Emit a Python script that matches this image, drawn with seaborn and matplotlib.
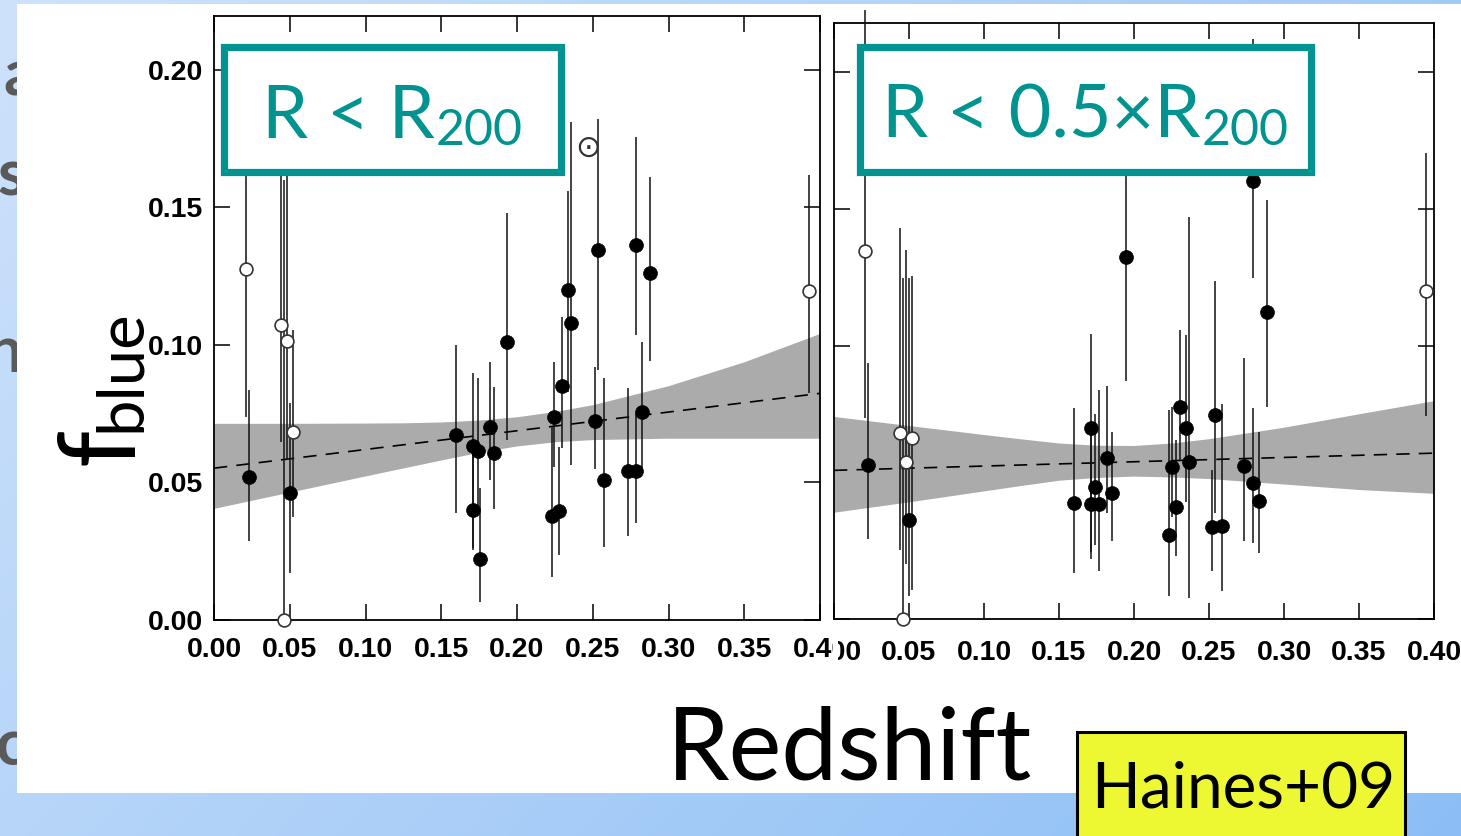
import numpy as np
import pandas as pd
import matplotlib
matplotlib.use("Agg")
import matplotlib.pyplot as plt
import seaborn as sns
from matplotlib.patches import Rectangle
from matplotlib.transforms import Bbox

# ---------------- data ----------------
x_ticks = [0.00, 0.05, 0.10, 0.15, 0.20, 0.25, 0.30, 0.35, 0.40]
x_tick_labels = ["0.00", "0.05", "0.10", "0.15", "0.20", "0.25", "0.30", "0.35", "0.40"]
y_ticks = [0.00, 0.05, 0.10, 0.15, 0.20]
y_tick_labels = ["0.00", "0.05", "0.10", "0.15", "0.20"]

# Left panel: R < R200
left_fill_z = [0.0233, 0.0499, 0.160, 0.1709, 0.1743, 0.1709, 0.1757, 0.182, 0.1849, 0.1935,
               0.223, 0.2278, 0.2247, 0.2298, 0.2337, 0.2355, 0.2518, 0.2535, 0.2576, 0.273,
               0.2788, 0.2788, 0.2827, 0.2876]
left_fill_f = [0.0521, 0.0463, 0.0673, 0.0634, 0.0616, 0.0400, 0.0223, 0.0700, 0.0606, 0.1012,
               0.0378, 0.0395, 0.0737, 0.0851, 0.1200, 0.1081, 0.0725, 0.1345, 0.0509, 0.0542,
               0.0542, 0.1364, 0.0758, 0.1261]
left_fill_lo = [0.0288, 0.0172, 0.0388, 0.0255, 0.0400, 0.0260, 0.0067, 0.0509, 0.0404, 0.0655,
                0.0158, 0.0236, 0.0558, 0.0624, 0.0830, 0.0564, 0.0550, 0.0910, 0.0267, 0.0305,
                0.0353, 0.1036, 0.0550, 0.0940]
left_fill_hi = [0.0836, 0.0789, 0.1000, 0.0898, 0.0880, 0.0620, 0.0481, 0.0939, 0.0846, 0.1480,
                0.0703, 0.0630, 0.0939, 0.1100, 0.1560, 0.1810, 0.0920, 0.1820, 0.0880, 0.0844,
                0.0750, 0.1757, 0.1012, 0.1610]
left_open_z = [0.0211, 0.0439, 0.0481, 0.0524, 0.0459, 0.3930]
left_open_f = [0.1276, 0.1073, 0.1015, 0.0685, 0.0000, 0.1196]
left_open_lo = [0.0739, 0.0648, 0.0580, 0.0376, 0.0000, 0.0825]
left_open_hi = [0.1750, 0.1700, 0.1680, 0.1055, 0.1600, 0.1618]
left_fit_z = [0.0, 0.4]
left_fit_f = [0.0552, 0.0824]
band_z = [0.00, 0.05, 0.10, 0.125, 0.15, 0.175, 0.20, 0.225, 0.25, 0.30, 0.35, 0.40]
left_band_hi = [0.0715, 0.0715, 0.0716, 0.0717, 0.0720, 0.0727, 0.0739, 0.0758, 0.0783, 0.0852, 0.0939, 0.1042]
left_band_lo = [0.0406, 0.0465, 0.0524, 0.0553, 0.0582, 0.0610, 0.0633, 0.0648, 0.0656, 0.0661, 0.0661, 0.0661]

# Right panel: R < 0.5 x R200
right_fill_z = [0.0228, 0.0498, 0.160, 0.1714, 0.1741, 0.1714, 0.1768, 0.1823, 0.185, 0.1945,
                0.2231, 0.2251, 0.2283, 0.2305, 0.2346, 0.2365, 0.2523, 0.2586, 0.2542, 0.2736,
                0.2796, 0.2834, 0.2885, 0.2796]
right_fill_f = [0.0564, 0.0364, 0.0427, 0.0699, 0.0485, 0.0422, 0.0422, 0.0592, 0.0461, 0.1324,
                0.0309, 0.0558, 0.0412, 0.0776, 0.0699, 0.0576, 0.0337, 0.0342, 0.0748, 0.0561,
                0.0499, 0.0433, 0.1124, 0.1604]
right_fill_lo = [0.0293, 0.0085, 0.0170, 0.0248, 0.0273, 0.0220, 0.0176, 0.0388, 0.0285, 0.0873,
                 0.0085, 0.0376, 0.0233, 0.0580, 0.0430, 0.0078, 0.0176, 0.0103, 0.0388, 0.0288,
                 0.0279, 0.0242, 0.0776, 0.1250]
right_fill_hi = [0.0939, 0.1250, 0.0773, 0.1042, 0.0752, 0.0680, 0.0839, 0.0852, 0.0685, 0.1750,
                 0.0764, 0.0776, 0.0655, 0.1057, 0.1039, 0.1470, 0.0545, 0.0788, 0.1236, 0.0955,
                 0.0773, 0.0685, 0.1533, 0.2124]
right_open_z = [0.0209, 0.0441, 0.0523, 0.0479, 0.0460, 0.3949]
right_open_f = [0.1348, 0.0682, 0.0664, 0.0576, 0.0000, 0.1200]
right_open_lo = [0.0735, 0.0255, 0.0106, 0.0201, 0.0000, 0.0745]
right_open_hi = [0.2229, 0.1430, 0.1255, 0.1350, 0.1250, 0.1705]
right_fit_z = [0.0, 0.4]
right_fit_f = [0.0545, 0.0608]
right_band_hi = [0.0742, 0.0709, 0.0676, 0.0660, 0.0645, 0.0637, 0.0636, 0.0645, 0.0661, 0.0703, 0.0752, 0.0800]
right_band_lo = [0.0392, 0.0430, 0.0470, 0.0490, 0.0509, 0.0519, 0.0524, 0.0521, 0.0515, 0.0495, 0.0475, 0.0461]

panel_titles = ["R < R", "R < 0.5×R"]
panel_subscript = "200"
x_label = "Redshift"
y_label_main = "f"
y_label_sub = "blue"
citation = "Haines+09"
sun_symbol = "⊙"
sun_pos = (0.2467, 0.1716)

# ---------------- style ----------------
sns.set_theme(style="ticks")
plt.rcParams['font.family'] = ['Liberation Sans', 'DejaVu Sans']
TEAL = "#00938f"
BAND = "#ababab"
SLIDE_FONT = ['Lato', 'DejaVu Sans']

W, H = 1461, 836
fig = plt.figure(figsize=(W / 100, H / 100), dpi=100)


def px_rect(x0, y0, x1, y1):
    return [x0 / W, 1 - y1 / H, (x1 - x0) / W, (y1 - y0) / H]


# background gradient + white slide panel
bg = fig.add_axes([0, 0, 1, 1], zorder=-10)
gx, gy = np.meshgrid(np.linspace(0, 1, 300), np.linspace(0, 1, 200))
t = np.clip(0.65 * gx + 0.35 * gy, 0, 1)[..., None]
c0 = np.array([206, 226, 251]) / 255
c1 = np.array([140, 190, 245]) / 255
bg.imshow(c0 * (1 - t) + c1 * t, extent=[0, W, H, 0], aspect='auto', interpolation='bilinear')
bg.set_xlim(0, W)
bg.set_ylim(H, 0)
bg.axis('off')
for ch, xx, yy in [("a", 3, 95), ("s", -3, 195), ("n", -14, 372), ("c", -4, 765)]:
    bg.text(xx, yy, ch, fontsize=46, color="#5a5a5a", family=SLIDE_FONT, fontweight='bold',
            ha='left', va='baseline', zorder=1)
bg.add_patch(Rectangle((16.7, 4), W - 16.7, 789, facecolor='white', edgecolor='none', zorder=2))

axL = fig.add_axes(px_rect(214, 16, 820, 620))
axR = fig.add_axes(px_rect(834, 23, 1434, 619.4))


def draw_panel(ax, fz, ff, flo, fhi, oz, of, olo, ohi, fitz, fitf, bhi, blo, ytop, clip):
    ax.set_facecolor('white')
    ax.fill_between(band_z, blo, bhi, color=BAND, lw=0, zorder=1)
    fit_df = pd.DataFrame({"z": fitz, "f": fitf})
    sns.lineplot(data=fit_df, x="z", y="f", ax=ax, color="black", lw=1.2,
                 dashes=False, zorder=3).lines[-1].set_dashes((8, 5.5))
    ax.vlines(fz, flo, fhi, colors="#111111", lw=1.1, zorder=4, clip_on=clip)
    ax.vlines(oz, olo, ohi, colors="#111111", lw=1.1, zorder=4, clip_on=clip)
    fdf = pd.DataFrame({"z": fz, "f": ff})
    odf = pd.DataFrame({"z": oz, "f": of})
    sns.scatterplot(data=fdf, x="z", y="f", ax=ax, color="black", s=100, edgecolor="black",
                    linewidth=0.5, zorder=5, clip_on=False)
    sns.scatterplot(data=odf, x="z", y="f", ax=ax, color="white", s=85, edgecolor="#333333",
                    linewidth=1.2, zorder=6, clip_on=False)
    ax.set_xlim(0, 0.4)
    ax.set_ylim(0, ytop)
    ax.set_xlabel("")
    ax.set_ylabel("")
    for sp in ax.spines.values():
        sp.set_visible(True)
        sp.set_color("black")
        sp.set_linewidth(1.3)
    ax.tick_params(direction='in', length=11.5, width=1.1, top=True, right=True,
                   colors='black', labelsize=20.5)


draw_panel(axL, left_fill_z, left_fill_f, left_fill_lo, left_fill_hi,
           left_open_z, left_open_f, left_open_lo, left_open_hi,
           left_fit_z, left_fit_f, left_band_hi, left_band_lo, 0.2196, True)
draw_panel(axR, right_fill_z, right_fill_f, right_fill_lo, right_fill_hi,
           right_open_z, right_open_f, right_open_lo, right_open_hi,
           right_fit_z, right_fit_f, right_band_hi, right_band_lo, 0.2181, False)

axL.set_xticks(x_ticks, x_tick_labels)
axL.set_yticks(y_ticks, y_tick_labels)
axR.set_xticks(x_ticks, x_tick_labels)
axR.set_yticks(y_ticks, [""] * len(y_ticks))
for lab in axL.get_xticklabels() + axL.get_yticklabels() + axR.get_xticklabels():
    lab.set_fontweight('bold')
axL.tick_params(axis='x', pad=12)
axL.tick_params(axis='y', pad=8)
axR.tick_params(axis='x', pad=15)

axL.text(sun_pos[0], sun_pos[1], sun_symbol, fontsize=22, color="#333333",
         family=['DejaVu Sans'], ha='center', va='center', zorder=7)

# overlay: boxes, big texts
ov = fig.add_axes([0, 0, 1, 1], zorder=10)
ov.set_xlim(0, W)
ov.set_ylim(H, 0)
ov.axis('off')
ov.patch.set_alpha(0)

ov.add_patch(Rectangle((224.2, 46.8), 336.3, 125.4, facecolor='white', edgecolor=TEAL, lw=5.2))
ov.add_patch(Rectangle((859.5, 46.8), 451.0, 125.7, facecolor='white', edgecolor=TEAL, lw=5.2))
ov.add_patch(Rectangle((1076.5, 731.5), 328, 120, facecolor='#eef832', edgecolor='black', lw=2.2,
                       clip_on=False))

renderer = fig.canvas.get_renderer()


def text_with_sub(x, y, main, sub, size, subsize, color, drop, gap=1):
    tm = ov.text(x, y, main, fontsize=size, color=color, family=SLIDE_FONT,
                 ha='left', va='baseline')
    bb = tm.get_window_extent(renderer=renderer)
    ov.text(bb.x1 + gap, y + drop, sub, fontsize=subsize, color=color, family=SLIDE_FONT,
            ha='left', va='baseline')


text_with_sub(262, 138, panel_titles[0], panel_subscript, 53, 36, TEAL, 7)
text_with_sub(882, 138, panel_titles[1], panel_subscript, 53, 36, TEAL, 7)

ov.text(667, 780, x_label, fontsize=72, color='black', family=SLIDE_FONT, ha='left', va='baseline')
ov.text(1091, 808, citation, fontsize=46, color='black', family=SLIDE_FONT, ha='left', va='baseline')

ov.text(133, 465, y_label_main, fontsize=76, color='black', family=SLIDE_FONT, rotation=90,
        rotation_mode='anchor', ha='left', va='baseline')
ov.text(140, 432, y_label_sub, fontsize=47, color='black', family=SLIDE_FONT, rotation=90,
        rotation_mode='anchor', ha='left', va='baseline')

# clip the overlapping x tick labels at the panel seam (display coords = pixels)
clipL = Bbox.from_extents(0, 0, 833, H)
clipR = Bbox.from_extents(838, 0, W, H)


def apply_clip():
    for tk in axL.xaxis.get_major_ticks():
        tk.label1.set_clip_box(clipL)
        tk.label1.set_clip_on(True)
    for tk in axR.xaxis.get_major_ticks():
        tk.label1.set_clip_box(clipR)
        tk.label1.set_clip_on(True)


apply_clip()
fig.canvas.draw()
apply_clip()
fig.savefig("out.png", dpi=100)
